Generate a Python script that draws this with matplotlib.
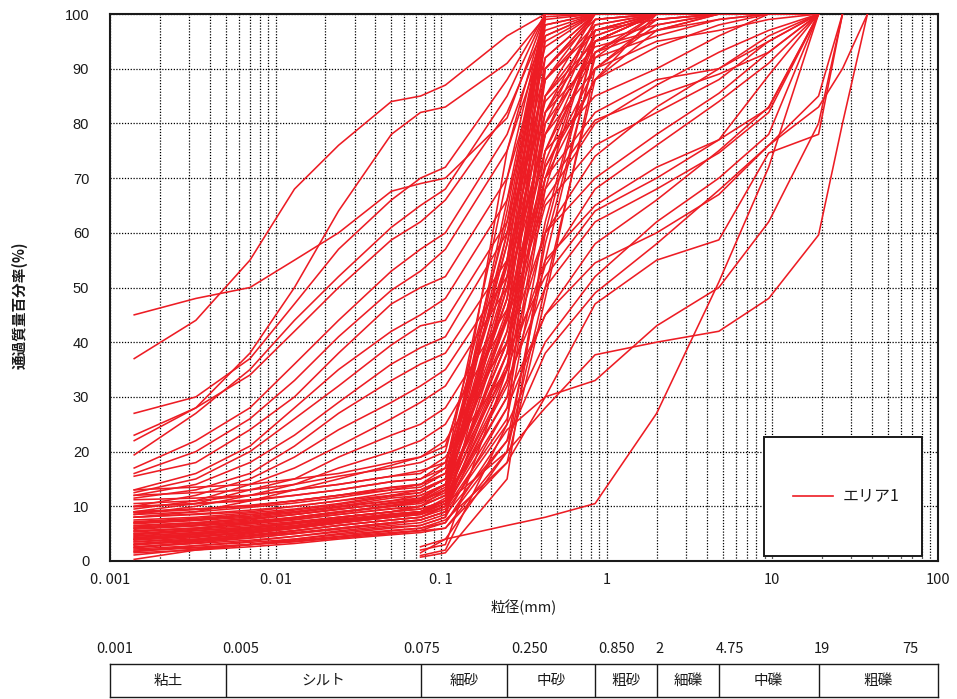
import matplotlib
matplotlib.use("Agg")
import matplotlib.pyplot as plt
from matplotlib.patches import Rectangle
from matplotlib.lines import Line2D
from matplotlib.ticker import LogLocator, FixedLocator, FixedFormatter, NullFormatter

plt.rcParams['font.family'] = ['Noto Sans CJK JP', 'DejaVu Sans']

# ---------------- data ----------------
hydro_sizes = [0.0014, 0.0033, 0.007, 0.013, 0.024, 0.05]
sieve_sizes = [0.075, 0.106, 0.25, 0.425, 0.85, 2.0, 4.75, 9.5, 19.0, 26.5, 37.5]

# rows: 6 hydrometer values followed by sieve values (from 0.075 mm)
fine_soils = [
    [37, 44, 55, 68, 76, 84, 85, 87, 96, 100, 100, 100, 100, 100, 100],
    [22, 28, 38, 50, 64, 78, 82, 83, 91, 99.5, 100, 100, 100, 100, 100],
    [45, 48, 50, 55, 60, 67.6, 69, 70, 81, 100, 100, 100, 100, 100, 100],
    [27, 30, 37, 47, 57, 66, 70, 72, 88, 100, 100, 100, 100, 100, 100],
    [19.4, 27, 35, 44, 52, 61, 65, 68, 85, 100, 100, 100, 100, 100, 100],
    [23, 28, 34, 42, 50, 58.7, 62, 66, 82, 98, 100, 100, 100, 100, 100],
    [17, 22, 28, 36, 44, 53, 57, 60, 78, 97, 100, 100, 100, 100, 100],
    [16, 20, 26, 33, 41, 49.5, 53, 57, 75, 96, 100, 100, 100, 100, 100],
    [15.5, 18, 24, 30, 38, 47, 50, 52, 70, 94, 100, 100, 100, 100, 100],
    [13, 16, 21, 28, 35, 42, 45, 48, 66, 92, 100, 100, 100, 100, 100],
    [12.5, 15, 20, 26, 32, 39.5, 43, 44, 62, 90, 99, 100, 100, 100, 100],
    [12, 14, 18, 23, 29, 36, 39, 41, 60, 88, 98, 100, 100, 100, 100],
    [11.5, 13, 16, 21, 27, 33, 36, 38, 55, 85, 97, 100, 100, 100, 100],
    [10, 12, 15, 19, 24, 29, 32, 35, 52, 82, 96, 100, 100, 100, 100],
    [9.5, 11, 14, 17, 21, 26, 29, 32, 50, 78, 95, 100, 100, 100, 100],
    [9, 10.5, 13, 15, 19, 23, 25, 28, 46, 75, 93, 99, 100, 100, 100],
    [8.5, 10, 12, 14, 17, 20, 22, 25, 44, 72, 90, 98, 100, 100, 100],
    [8, 9, 11, 13, 15, 17.5, 19, 22, 40, 70, 88, 97, 100, 100, 100],
]

sandy_soils = [
    [13, 13.5, 14, 15, 16, 18, 19, 21, 55, 100, 100, 100, 100, 100, 100],
    [12, 12.5, 13, 14, 15.5, 17, 18, 20, 62, 100, 100, 100, 100, 100, 100],
    [11.2, 11.5, 12, 13, 14, 15.5, 16.5, 18, 48, 96, 100, 100, 100, 100, 100],
    [9.9, 10.5, 11, 12, 13, 14.5, 15, 17, 70, 100, 100, 100, 100, 100, 100],
    [9, 9.5, 10, 11, 12, 13, 14, 16, 42, 88, 100, 100, 100, 100, 100],
    [8, 8.5, 9, 10, 11, 12, 13, 15, 58, 100, 100, 100, 100, 100, 100],
    [7, 7.5, 8.5, 9, 10, 11, 12, 14, 35, 80, 99, 100, 100, 100, 100],
    [6.2, 6.8, 7.5, 8.5, 9.5, 10.5, 11, 13, 66, 100, 100, 100, 100, 100, 100],
    [5.3, 6, 6.8, 7.5, 8.5, 9.5, 10, 12, 50, 98, 100, 100, 100, 100, 100],
    [4.8, 5.5, 6.2, 7, 8, 9, 9.5, 11, 30, 70, 97, 100, 100, 100, 100],
    [4.2, 5, 5.8, 6.5, 7.5, 8.5, 9, 10.5, 75, 100, 100, 100, 100, 100, 100],
    [3.5, 4.3, 5.2, 6, 7, 8, 8.5, 10, 45, 92, 100, 100, 100, 100, 100],
    [2.9, 3.8, 4.6, 5.5, 6.5, 7.5, 8, 9.5, 26, 62, 95, 100, 100, 100, 100],
    [2.4, 3.3, 4.2, 5, 6, 7, 7.5, 9, 38, 85, 100, 100, 100, 100, 100],
    [1.7, 2.8, 3.6, 4.5, 5.5, 6.5, 7, 8.5, 22, 55, 93, 100, 100, 100, 100],
    [1.1, 2.2, 3, 4, 5, 6, 6.5, 8, 52, 100, 100, 100, 100, 100, 100],
    [0.3, 2.0, 3.0, 3.8, 4.5, 5.5, 6, 7.5, 18, 48, 90, 99, 100, 100, 100],
    [5, 5.8, 6.5, 7.2, 8, 9, 10, 12, 60, 100, 100, 100, 100, 100, 100],
    [4.5, 5.2, 6, 6.8, 7.8, 9, 10, 13, 40, 78, 98, 100, 100, 100, 100],
    [3, 4, 5, 6, 7, 8.5, 9, 11, 55, 99, 100, 100, 100, 100, 100],
    [6.5, 7, 7.8, 8.5, 9.5, 10.5, 11.5, 14, 45, 90, 100, 100, 100, 100, 100],
    [10.5, 11, 12, 13, 14, 15.5, 16, 19, 35, 75, 96, 100, 100, 100, 100],
    [2.5, 3.5, 4.5, 5.5, 6.5, 7.5, 8, 10, 28, 68, 97, 100, 100, 100, 100],
    [5.5, 6, 7, 8, 9, 10, 10.5, 12.5, 64, 100, 100, 100, 100, 100, 100],
    [4, 4.8, 5.6, 6.4, 7.4, 8.6, 9, 11, 33, 73, 95, 100, 100, 100, 100],
    [7.5, 8, 8.8, 9.5, 10.5, 12, 12.5, 15, 48, 95, 100, 100, 100, 100, 100],
    [3.8, 4.5, 5.4, 6.2, 7.2, 8.2, 8.8, 10.5, 20, 58, 92, 100, 100, 100, 100],
    [6, 6.6, 7.3, 8, 9, 10, 10.8, 13, 38, 82, 99, 100, 100, 100, 100],
]

gravelly_soils = [
    [2, 2.5, 3, 3.5, 4.2, 5, 5.5, 6, 20, 28, 37.7, 40, 42, 48, 59.6, 80, 100],
    [3, 3.6, 4.2, 5, 5.8, 6.8, 7.5, 9, 25, 40, 52, 62, 70, 78, 100],
    [4, 4.6, 5.2, 6, 7, 8, 8.5, 10, 30, 45, 58, 66, 75, 83, 100],
    [6, 6.5, 7, 7.8, 8.8, 10, 11, 13, 40, 60, 70, 78, 85.5, 93, 100],
    [7, 7.6, 8.2, 9, 10, 11.5, 12, 14, 45, 70, 82, 88, 90, 95, 100],
    [3.5, 4, 4.8, 5.6, 6.5, 7.5, 8, 10, 35, 55, 65, 72, 77, 82.8, 100],
    [8, 8.6, 9.3, 10, 11, 12.5, 13, 15, 50, 75, 85, 90, 96, 100, 100],
    [2.2, 2.8, 3.4, 4, 4.8, 5.6, 6, 7, 22, 38, 49, 58, 67.8, 76, 83, 90, 100],
    [1.5, 2, 2.6, 3.2, 4, 4.8, 5.2, 6, 18, 30, 47, 55, 58.7, 74.6, 78, 100],
    [5, 5.6, 6.2, 7, 8, 9, 9.5, 11, 38, 52, 64, 70, 77, 88.8, 100],
    [9, 9.5, 10.2, 11, 12, 13.5, 14, 16, 48, 80, 93, 97, 100, 100, 100],
    [4.6, 5.2, 6, 6.8, 7.6, 8.6, 9, 11, 42, 68, 80.6, 85, 89, 93, 100],
    [3.2, 3.8, 4.5, 5.2, 6, 7, 7.5, 9, 33, 50, 62, 68, 74.6, 82, 100],
    [10, 10.5, 11.2, 12, 13, 14.5, 15, 18, 55, 85, 95, 98, 100, 100, 100],
    [5.5, 6, 6.8, 7.6, 8.5, 9.6, 10, 12, 40, 65, 76, 82, 88, 95, 100],
    [2.6, 3.2, 3.8, 4.5, 5.3, 6.2, 6.5, 8, 28, 45, 54.5, 60, 67, 76, 85, 100],
    [1.8, 2.4, 3, 3.6, 4.4, 5.2, 5.6, 7, 24, 30, 33, 43, 50, 62, 80, 100],
    [6.8, 7.4, 8, 8.8, 9.8, 11, 11.5, 14, 52, 78, 90, 95, 97, 99, 100],
    [8.5, 9, 9.8, 10.6, 11.6, 13, 13.5, 16, 58, 88, 97, 99, 100, 100, 100],
    [7.2, 7.8, 8.5, 9.3, 10.3, 11.8, 12.5, 15, 46, 72, 88, 94, 98, 100, 100],
    [5.8, 6.4, 7.1, 7.9, 8.9, 10.2, 11, 13.5, 44, 66, 80, 87, 93, 97, 100],
    [4.3, 4.9, 5.6, 6.4, 7.3, 8.4, 9, 11.5, 36, 60, 74, 83, 90, 96, 100],
    [6.4, 7, 7.7, 8.5, 9.4, 10.7, 11.2, 14, 54, 82, 92, 96, 99, 100, 100],
    [3.9, 4.5, 5.2, 6, 6.9, 8, 8.6, 10.5, 32, 54, 68, 76, 84, 91, 100],
    [8.8, 9.4, 10.1, 11, 12, 13.4, 14, 17, 60, 84, 94, 97, 99, 100, 100],
]

# rows: sieve values only (from 0.075 mm)
sieve_only_soils = [
    [1.5, 4, 6.5, 8, 10.5, 27, 51, 72, 100],
    [1, 2, 25, 90, 100, 100, 100, 100, 100],
    [2, 3, 35, 100, 100, 100, 100, 100, 100],
    [0.7, 1.5, 15, 60, 95, 100, 100, 100, 100],
    [2.6, 4, 20, 50, 88, 100, 100, 100, 100],
]

x_tick_values = [0.001, 0.01, 0.1, 1, 10, 100]
x_tick_labels = ["0. 001", "0. 01", "0. 1", "1", "10", "100"]
y_tick_values = [0, 10, 20, 30, 40, 50, 60, 70, 80, 90, 100]

class_bounds = [0.001, 0.005, 0.075, 0.25, 0.85, 2.0, 4.75, 19.0, 100.0]
class_bound_labels = ["0.001", "0.005", "0.075", "0.250", "0.850", "2", "4.75", "19", "75"]
class_names = ["粘土", "シルト", "細砂", "中砂", "粗砂", "細礫", "中礫", "粗礫"]
series_name = "エリア1"

# ---------------- layout ----------------
W, H = 957, 699
RED = "#ED1C24"
INK = "#1a1a1a"
fig = plt.figure(figsize=(W / 100, H / 100), dpi=100)

def fx(px):
    return px / W

def fy(py):
    return 1 - py / H

L, R, T, B = 110, 938, 14, 561
ax = fig.add_axes([fx(L), fy(B), fx(R - L), (B - T) / H])
ax.set_xscale("log")
ax.set_xlim(0.001, 100)
ax.set_ylim(0, 100)

for row in fine_soils + sandy_soils + gravelly_soils:
    xs = hydro_sizes + sieve_sizes[:len(row) - len(hydro_sizes)]
    ax.plot(xs, row, color=RED, lw=1.15, zorder=3)
for row in sieve_only_soils:
    ax.plot(sieve_sizes[:len(row)], row, color=RED, lw=1.15, zorder=3)

ax.xaxis.set_major_locator(FixedLocator(x_tick_values))
ax.xaxis.set_major_formatter(FixedFormatter(x_tick_labels))
ax.xaxis.set_minor_locator(LogLocator(base=10, subs=range(2, 10), numticks=20))
ax.xaxis.set_minor_formatter(NullFormatter())
ax.set_yticks(y_tick_values)
ax.grid(True, which="both", color="black", linestyle=(0, (1, 1.3)), linewidth=0.9)
ax.set_axisbelow(True)
ax.tick_params(which="both", length=0)
ax.tick_params(axis="x", pad=9, labelsize=10.5, colors=INK)
ax.tick_params(axis="y", pad=15, labelsize=10.5, colors=INK)
for lab in ax.get_yticklabels():
    lab.set_family(["Liberation Sans", "DejaVu Sans"])
for s in ax.spines.values():
    s.set_linewidth(1.5)
    s.set_color(INK)

fig.text(fx(524), fy(607), "粒径(mm)", ha="center", va="center", fontsize=10.5, color=INK)
fig.text(fx(20), fy(305), "通過質量百分率(%)", ha="center", va="center",
         rotation=90, fontsize=10.5, color=INK, fontweight="bold")

# legend box
ax.add_patch(Rectangle(((764 - L) / (R - L), (B - 556) / (B - T)),
                       (922 - 764) / (R - L), (556 - 437) / (B - T),
                       transform=ax.transAxes, facecolor="white",
                       edgecolor=INK, lw=1.4, zorder=5))
ly = (B - 496) / (B - T)
ax.add_line(Line2D([(793 - L) / (R - L), (833 - L) / (R - L)], [ly, ly],
                   transform=ax.transAxes, color=RED, lw=1.2, zorder=6))
ax.text((843 - L) / (R - L), ly, series_name, transform=ax.transAxes,
        ha="left", va="center", fontsize=11.5, color=INK, zorder=6)

# classification table
tax = fig.add_axes([fx(L), fy(697), fx(R - L), (697 - 664) / H])
tax.set_xscale("log")
tax.set_xlim(0.001, 100)
tax.set_ylim(0, 1)
tax.set_xticks([])
tax.set_yticks([])
tax.minorticks_off()
for s in tax.spines.values():
    s.set_linewidth(1.0)
    s.set_color(INK)
for b in class_bounds[1:-1]:
    tax.axvline(b, color=INK, lw=1.0)
for i, name in enumerate(class_names):
    xc = (class_bounds[i] * class_bounds[i + 1]) ** 0.5
    tax.text(xc, 0.5, name, ha="center", va="center", fontsize=10.5, color=INK)

label_px = [115, 241, 422, 530, 617, 660, 730, 822, 910]
for px, lab in zip(label_px, class_bound_labels):
    fig.text(fx(px), fy(649), lab, ha="center", va="center", fontsize=10.5, color=INK)

fig.savefig("out.png", dpi=100)
